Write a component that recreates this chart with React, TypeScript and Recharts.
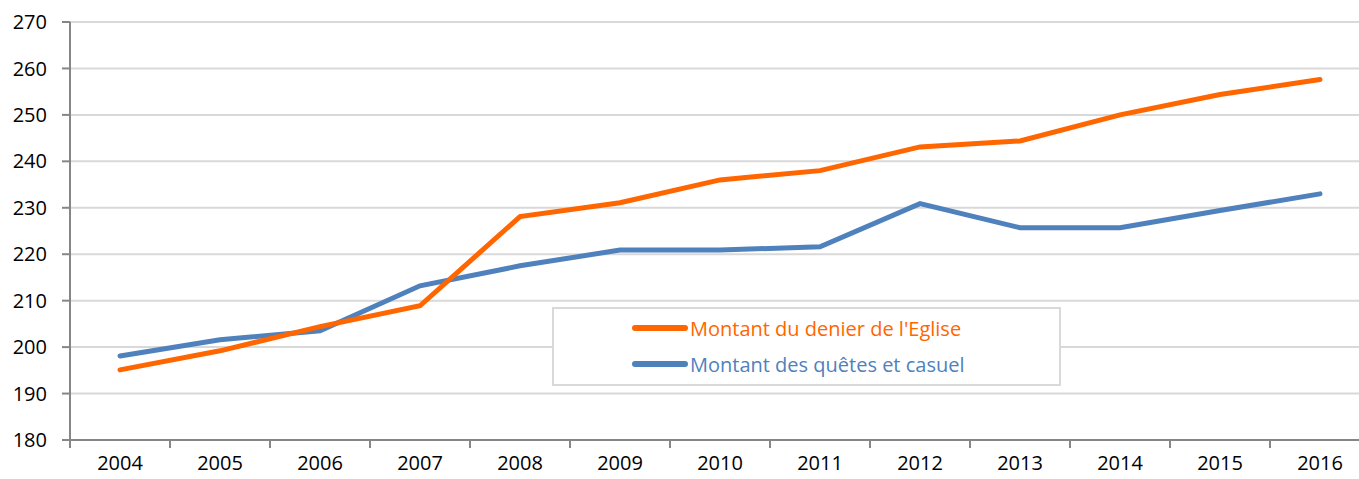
import React from 'react'
import { LineChart, Line, XAxis, YAxis, CartesianGrid } from 'recharts'

const years = ['2004', '2005', '2006', '2007', '2008', '2009', '2010', '2011', '2012', '2013', '2014', '2015', '2016']
const denier = [195.1, 199.2, 204.4, 208.9, 228.1, 231.1, 236, 238, 243.1, 244.4, 250, 254.4, 257.6]
const quetes = [198.1, 201.6, 203.5, 213.2, 217.5, 220.9, 220.9, 221.6, 230.9, 225.7, 225.7, 229.4, 233]
const yTicks = [180, 190, 200, 210, 220, 230, 240, 250, 260, 270]

const data = years.map((year, i) => ({ year, denier: denier[i], quetes: quetes[i] }))

const FONT = '"Open Sans", sans-serif'
const ORANGE = '#FF6600'
const BLUE = '#4F81BD'
const HALF_BAND = 50

// recharts hands y = axis line + tickSize + tickMargin (6 + 2)
function YearTick(props: any) {
  const { x, y, payload, index } = props
  const axisY = y - 8
  const last = index === years.length - 1
  return (
    <g>
      <line x1={x - HALF_BAND} y1={axisY} x2={x - HALF_BAND} y2={axisY + 8} stroke="#868686" strokeWidth={2} />
      {last && <line x1={x + HALF_BAND} y1={axisY} x2={x + HALF_BAND} y2={axisY + 8} stroke="#868686" strokeWidth={2} />}
      <text x={x} y={axisY + 30} textAnchor="middle" fontSize={20} fontFamily={FONT} fill="#000">
        {payload.value}
      </text>
    </g>
  )
}

function LegendBox() {
  const items = [
    { label: "Montant du denier de l'Eglise", color: ORANGE },
    { label: 'Montant des quêtes et casuel', color: BLUE },
  ]
  return (
    <div
      style={{
        position: 'absolute',
        left: 552,
        top: 307,
        width: 505,
        height: 74,
        border: '2px solid #D9D9D9',
        background: '#fff',
        paddingTop: 1,
      }}
    >
      {items.map((it) => (
        <div key={it.label} style={{ display: 'flex', alignItems: 'center', height: 36, marginLeft: 78 }}>
          <div style={{ width: 56, height: 6, borderRadius: 3, background: it.color }} />
          <span style={{ color: it.color, fontFamily: FONT, fontSize: 20, marginLeft: 2 }}>{it.label}</span>
        </div>
      ))}
    </div>
  )
}

export default function App() {
  return (
    <div style={{ position: 'absolute', left: 0, top: 0, width: 1359, height: 479, overflow: 'hidden', background: '#fff' }}>
      <LineChart width={1380} height={479} data={data} margin={{ top: 22, right: 10, bottom: 0, left: 0 }}>
        <CartesianGrid vertical={false} stroke="#D9D9D9" strokeWidth={2} />
        <XAxis
          dataKey="year"
          height={39}
          padding={{ left: HALF_BAND, right: HALF_BAND }}
          tickLine={false}
          axisLine={{ stroke: '#868686', strokeWidth: 2 }}
          tick={<YearTick />}
          interval={0}
        />
        <YAxis
          width={70}
          domain={[180, 270]}
          ticks={yTicks}
          interval={0}
          tickSize={8}
          tickMargin={15}
          axisLine={{ stroke: '#868686', strokeWidth: 2 }}
          tickLine={{ stroke: '#868686', strokeWidth: 2 }}
          tick={{ fontSize: 20, fontFamily: FONT, fill: '#000' }}
        />
        <Line
          type="linear"
          dataKey="quetes"
          stroke={BLUE}
          strokeWidth={5}
          strokeLinecap="round"
          dot={false}
          isAnimationActive={false}
        />
        <Line
          type="linear"
          dataKey="denier"
          stroke={ORANGE}
          strokeWidth={5}
          strokeLinecap="round"
          dot={false}
          isAnimationActive={false}
        />
      </LineChart>
      <LegendBox />
    </div>
  )
}
